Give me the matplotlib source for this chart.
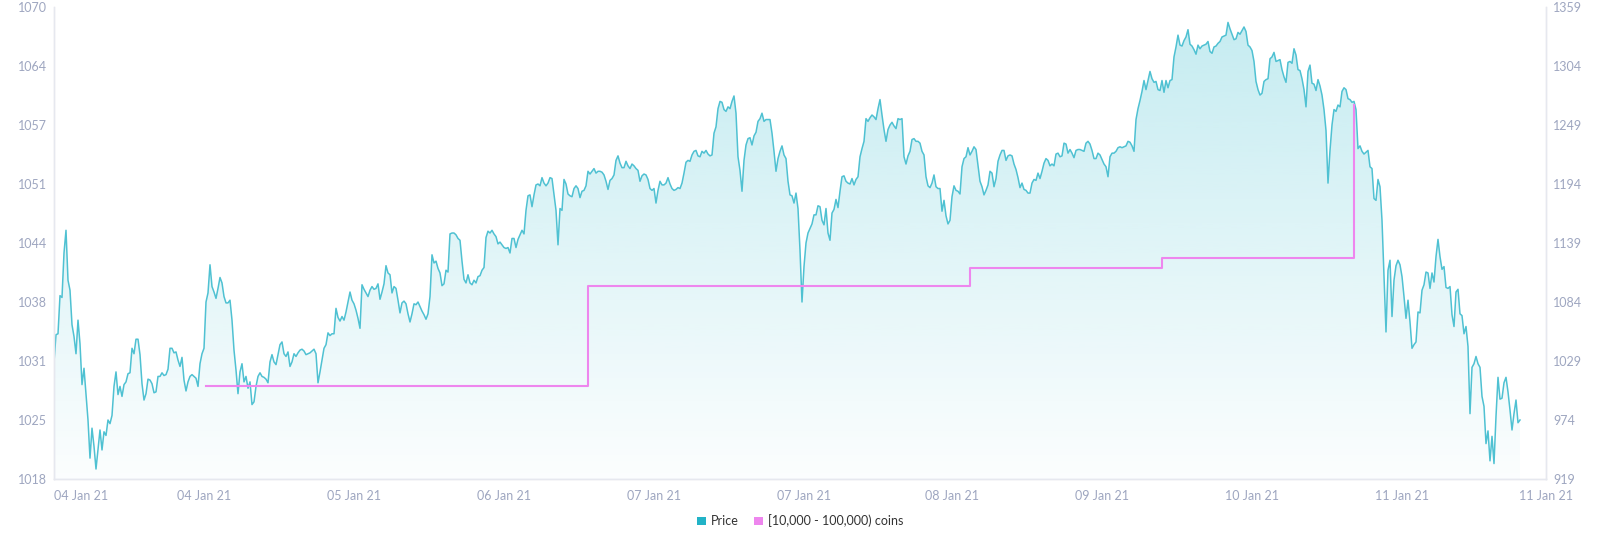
import numpy as np
import matplotlib
matplotlib.use("Agg")
import matplotlib.pyplot as plt
from matplotlib.patches import Patch

plt.rcParams['font.family'] = ['Lato', 'DejaVu Sans']

# -----------------------------------------------------------------------------
# DATA (price sampled at even steps, read from the reference)
# -----------------------------------------------------------------------------
price_seg1 = [
    1030.9, 1033.9, 1034.0, 1038.2, 1038.0, 1042.9, 1045.4, 1039.9, 1038.8, 1035.0,
    1033.7, 1031.8, 1035.5, 1032.9, 1028.4, 1030.2, 1027.4, 1024.5, 1020.3, 1023.6,
    1021.6, 1019.1, 1021.2, 1023.4, 1021.2, 1023.2, 1022.8, 1024.5, 1024.1, 1025.0,
    1028.2, 1029.8, 1027.3, 1028.2, 1027.1, 1028.4, 1028.7, 1029.6, 1029.7, 1032.4,
    1031.8, 1033.4, 1033.4, 1031.7, 1028.5, 1026.7, 1027.4, 1029.0, 1028.9, 1028.5,
    1027.5, 1027.6, 1029.3, 1029.3, 1029.7, 1029.4, 1029.5, 1030.1, 1032.4, 1032.4,
    1031.9, 1032.0, 1031.1, 1030.4, 1031.4, 1028.9, 1027.7, 1028.7, 1029.3, 1029.5,
    1029.3, 1029.1, 1028.2, 1030.7, 1031.8, 1032.4, 1037.5, 1038.5, 1041.6, 1039.2,
    1038.6, 1037.9, 1039.0, 1040.2, 1039.6, 1038.1, 1037.4, 1037.4, 1037.7, 1035.5,
    1032.2, 1030.0, 1027.4, 1029.8, 1030.7, 1028.7, 1029.3, 1028.0, 1028.7, 1026.2,
    1026.5, 1028.2, 1029.3, 1029.7, 1029.3, 1029.2, 1029.0, 1028.6, 1030.9, 1031.7,
    1030.9, 1030.6, 1031.7, 1032.8, 1033.1, 1031.8, 1031.5, 1032.0, 1030.4, 1030.9,
    1031.8, 1031.5, 1031.9, 1032.2, 1032.3, 1032.1, 1031.7, 1031.8, 1031.9, 1032.1,
    1032.3, 1031.8, 1028.6, 1029.8, 1031.1, 1032.4, 1032.8, 1034.1, 1033.8, 1034.0,
    1034.0, 1036.8, 1035.8, 1035.4, 1035.9, 1035.5, 1036.4, 1037.5, 1038.6,
]
price_seg2 = [
    1037.7, 1037.3, 1036.6, 1035.7, 1034.6, 1039.4, 1038.9, 1038.5, 1038.1, 1038.8,
    1039.2, 1038.9, 1039.0, 1039.5, 1037.8, 1038.6, 1039.5, 1041.5, 1040.7, 1040.5,
    1038.5, 1039.2, 1039.0, 1037.7, 1036.3, 1037.4, 1037.6, 1037.3, 1036.2, 1035.3,
    1036.2, 1037.3, 1037.2, 1037.5, 1037.0, 1036.5, 1036.1, 1035.6, 1036.2, 1038.1,
    1042.7, 1041.8, 1042.0, 1041.2, 1040.7, 1039.3, 1039.5, 1041.0, 1040.8, 1045.0,
    1045.1, 1045.1, 1044.9, 1044.5, 1044.3, 1042.0, 1040.0, 1039.6, 1040.5, 1039.6,
    1039.4, 1039.9, 1039.6, 1040.3, 1040.4, 1041.0, 1041.3, 1044.6, 1045.3, 1045.1,
    1045.4, 1045.0, 1044.7, 1043.9, 1044.1, 1043.8, 1043.5, 1043.4, 1043.5, 1042.9,
    1044.5, 1044.5, 1043.5, 1044.4, 1044.9, 1045.4, 1045.0, 1047.6, 1049.2, 1049.3,
    1048.0, 1049.3, 1050.4, 1050.5, 1050.3, 1051.2, 1050.6, 1050.3, 1050.6, 1051.2,
    1051.1, 1049.3, 1047.6, 1043.8, 1047.8, 1047.6, 1051.0, 1050.5, 1049.4, 1049.2,
    1049.1, 1050.0, 1050.3, 1050.0, 1049.0, 1049.7, 1049.8, 1050.3, 1051.9, 1051.6,
    1051.9, 1052.2, 1051.7, 1051.9, 1051.9, 1051.8, 1051.5, 1050.8, 1049.9, 1050.9,
    1051.1, 1051.5, 1053.1, 1053.6, 1052.8, 1052.3, 1052.3, 1053.0, 1052.5, 1052.2,
    1052.7, 1052.5, 1052.2, 1052.0, 1050.8, 1051.4, 1051.6, 1051.5, 1051.0, 1050.0,
]
price_seg3 = [
    1049.8, 1050.0, 1048.4, 1049.8, 1050.8, 1050.4, 1050.4, 1050.6, 1051.2, 1050.5,
    1050.0, 1049.8, 1049.9, 1050.1, 1050.0, 1050.6, 1051.7, 1052.9, 1053.1, 1053.0,
    1053.7, 1054.1, 1054.2, 1053.6, 1053.5, 1054.1, 1053.9, 1054.2, 1053.8, 1053.6,
    1053.7, 1056.1, 1056.8, 1058.8, 1059.6, 1059.5, 1058.7, 1058.5, 1059.0, 1058.8,
    1059.6, 1060.2, 1058.3, 1053.5, 1052.0, 1049.7, 1053.1, 1054.8, 1055.5, 1055.6,
    1054.8, 1055.8, 1056.2, 1057.4, 1057.7, 1058.3, 1057.4, 1057.6, 1057.6, 1057.6,
    1056.1, 1054.1, 1051.9, 1053.3, 1054.1, 1054.7, 1053.7, 1053.3, 1050.8, 1049.3,
    1049.2, 1048.4, 1049.5, 1047.8, 1043.2, 1037.5, 1041.4, 1044.0, 1045.1, 1045.6,
    1046.1, 1047.1, 1047.1, 1048.1, 1048.0, 1046.5, 1046.0, 1047.8, 1045.1, 1044.3,
    1047.3, 1047.7, 1048.8, 1047.9, 1049.7, 1051.3, 1051.4, 1050.8, 1050.6, 1050.5,
    1051.1, 1050.4, 1051.0, 1051.3, 1053.5, 1054.4, 1055.2, 1057.7, 1057.4, 1057.8,
    1058.1, 1057.9, 1057.6, 1058.8, 1059.8, 1058.1, 1056.5, 1055.2, 1056.5, 1057.0,
    1057.3, 1056.9, 1056.6, 1057.7, 1057.6, 1057.7, 1053.5, 1052.7, 1053.6, 1054.1,
    1055.4, 1055.5, 1055.2, 1055.2, 1055.0, 1054.1, 1053.7, 1051.3, 1050.3, 1050.1,
    1050.6, 1051.5, 1050.2, 1050.0, 1050.0, 1047.5, 1048.7, 1047.0, 1046.1, 1046.5,
    1049.1,
]
price_seg4 = [
    1050.3, 1049.8, 1049.7, 1049.4, 1052.4, 1053.3, 1053.5, 1054.5, 1053.7, 1054.1,
    1054.6, 1054.3, 1052.5, 1050.8, 1050.2, 1049.3, 1049.8, 1050.4, 1051.9, 1051.7,
    1050.2, 1051.1, 1053.0, 1053.7, 1054.2, 1054.2, 1053.1, 1053.6, 1053.7, 1053.6,
    1052.7, 1052.1, 1051.2, 1050.1, 1050.6, 1049.9, 1049.8, 1049.5, 1049.5, 1050.6,
    1051.0, 1050.9, 1051.7, 1051.1, 1051.9, 1052.8, 1053.3, 1053.1, 1052.5, 1052.7,
    1052.5, 1053.8, 1053.9, 1053.5, 1053.6, 1055.0, 1054.9, 1053.9, 1054.3, 1053.9,
    1053.4, 1054.2, 1054.3, 1054.3, 1054.2, 1054.1, 1055.0, 1055.2, 1054.9, 1054.2,
    1053.3, 1053.3, 1053.9, 1053.7, 1053.2, 1052.7, 1052.4, 1051.3, 1053.5, 1053.9,
    1053.9, 1054.1, 1054.5, 1054.6, 1054.5, 1054.6, 1054.7, 1055.2, 1055.1, 1054.7,
    1054.1, 1057.6, 1058.8, 1059.7, 1060.7, 1061.9, 1060.9, 1061.9, 1062.9, 1062.1,
    1061.7, 1061.8, 1060.9, 1060.8, 1061.9, 1060.6, 1061.9, 1061.1, 1061.9, 1062.0,
    1064.5, 1065.6, 1066.9, 1065.8, 1065.7, 1066.3, 1066.7, 1067.5, 1065.9, 1065.7,
    1065.3, 1064.8, 1065.8, 1065.4, 1065.7, 1065.8, 1065.9, 1066.2, 1065.1, 1064.9,
    1065.6, 1065.7, 1066.0, 1066.2, 1066.7, 1066.8, 1066.9, 1068.3, 1067.6, 1067.0,
    1066.4, 1066.5, 1067.2, 1067.0, 1067.4, 1067.8, 1067.3, 1065.8, 1065.6, 1065.2,
]
price_seg5 = [
    1064.0, 1061.8, 1060.9, 1060.3, 1060.5, 1061.8, 1062.0, 1062.1, 1064.3, 1064.5,
    1065.0, 1064.0, 1064.1, 1064.2, 1063.1, 1062.3, 1061.7, 1063.9, 1064.0, 1063.8,
    1065.4, 1064.7, 1063.1, 1063.0, 1062.1, 1060.9, 1059.0, 1062.9, 1063.6, 1061.6,
    1061.5, 1060.8, 1062.0, 1061.3, 1060.3, 1058.7, 1056.4, 1050.6, 1054.2, 1057.0,
    1058.7, 1058.5, 1059.2, 1059.0, 1060.7, 1061.1, 1060.9, 1059.9, 1059.8, 1059.5,
    1059.6, 1058.7, 1054.4, 1054.7, 1054.1, 1053.8, 1054.0, 1054.2, 1052.4, 1052.2,
    1048.9, 1048.7, 1051.0, 1050.2, 1046.5, 1040.3, 1034.2, 1041.0, 1042.1, 1035.9,
    1039.9, 1041.5, 1042.1, 1041.6, 1040.3, 1038.1, 1035.7, 1037.7, 1035.3, 1032.4,
    1032.8, 1033.1, 1036.4, 1036.3, 1038.8, 1039.4, 1040.8, 1040.7, 1039.0, 1040.7,
    1039.7, 1042.5, 1044.4, 1042.5, 1041.1, 1041.4, 1039.1, 1039.0, 1039.2, 1036.1,
    1034.8, 1038.6, 1038.9, 1036.2, 1036.0, 1034.0, 1034.8, 1032.6, 1025.2, 1030.3,
    1030.7, 1031.5, 1030.7, 1030.3, 1027.1, 1026.0, 1021.9, 1023.3, 1020.0, 1022.7,
    1019.7, 1024.9, 1029.2, 1026.8, 1026.9, 1028.6, 1029.2, 1027.6, 1025.6, 1023.4,
    1025.2, 1026.7, 1024.2, 1024.5,
]
price = np.array(price_seg1 + price_seg2 + price_seg3 + price_seg4 + price_seg5)
price_t = np.arange(len(price))          # sample index

# holder count series (step line), sample index -> value
coins_t = [76, 267, 458, 554, 649, 650]
coins_v = [1006, 1099, 1116, 1125, 1125, 1268]

X_END = 746
xtick_pos = [0, 75, 150, 225, 300, 375, 449, 524, 599, 674, 746]
xtick_lab = ['04 Jan 21', '04 Jan 21', '05 Jan 21', '06 Jan 21', '07 Jan 21', '07 Jan 21',
             '08 Jan 21', '09 Jan 21', '10 Jan 21', '11 Jan 21', '11 Jan 21']

left_lim = (1018, 1070)
left_lab = ['1018', '1025', '1031', '1038', '1044', '1051', '1057', '1064', '1070']
right_lim = (919, 1359)
right_lab = ['919', '974', '1029', '1084', '1139', '1194', '1249', '1304', '1359']

# -----------------------------------------------------------------------------
PRICE_COLOR = '#4fc1d2'
PRICE_KEY = '#22b3c7'
COINS_COLOR = '#ee86ee'
TICK_COLOR = '#9ea6c0'
SPINE_COLOR = '#e6e8ef'

fig = plt.figure(figsize=(16, 5.42), dpi=100)
ax = fig.add_axes([54 / 1600, 1 - 479 / 542, 1492 / 1600, 472 / 542])
ax.set_xlim(0, X_END)
ax.set_ylim(*left_lim)

# gradient area under the price
rgb = np.array(matplotlib.colors.to_rgb('#4cc4d4'))
grad = np.zeros((256, 1, 4))
grad[:, 0, :3] = rgb
grad[:, 0, 3] = np.linspace(0.33, 0.02, 256)
poly = ax.fill_between(price_t, price, left_lim[0], color='none', lw=0)
img = ax.imshow(grad, extent=[0, X_END, left_lim[0], left_lim[1]], aspect='auto',
                origin='upper', zorder=1, interpolation='bicubic')
img.set_clip_path(poly.get_paths()[0], transform=ax.transData)
ax.plot(price_t, price, color=PRICE_COLOR, lw=1.1, zorder=3)

ax.set_yticks(np.linspace(left_lim[0], left_lim[1], 9))
ax.set_yticklabels(left_lab)
ax.set_xticks(xtick_pos)
ax.set_xticklabels(xtick_lab)
xl = ax.get_xticklabels()
xl[0].set_ha('left')

ax2 = ax.twinx()
ax2.set_ylim(*right_lim)
ax2.step(coins_t, coins_v, where='post', color=COINS_COLOR, lw=1.5, zorder=4)
ax2.set_yticks(np.linspace(right_lim[0], right_lim[1], 9))
ax2.set_yticklabels(right_lab)

for a in (ax, ax2):
    a.tick_params(length=0, labelsize=9, labelcolor=TICK_COLOR)
    for s in a.spines.values():
        s.set_color(SPINE_COLOR)
        s.set_linewidth(1.0)
    a.spines['top'].set_visible(False)
ax.tick_params(axis='x', pad=8)
ax.tick_params(axis='y', pad=5)
ax2.tick_params(axis='y', pad=5)

handles = [Patch(facecolor=PRICE_KEY, edgecolor='none', label='Price'),
           Patch(facecolor=COINS_COLOR, edgecolor='none', label='[10,000 - 100,000) coins')]
fig.legend(handles=handles, loc='center', bbox_to_anchor=(0.5, 1 - 521 / 542), ncol=2,
           frameon=False, fontsize=9, handlelength=0.7, handleheight=0.7,
           handletextpad=0.4, columnspacing=1.2, labelcolor='#333333')

fig.savefig('out.png', dpi=100)
